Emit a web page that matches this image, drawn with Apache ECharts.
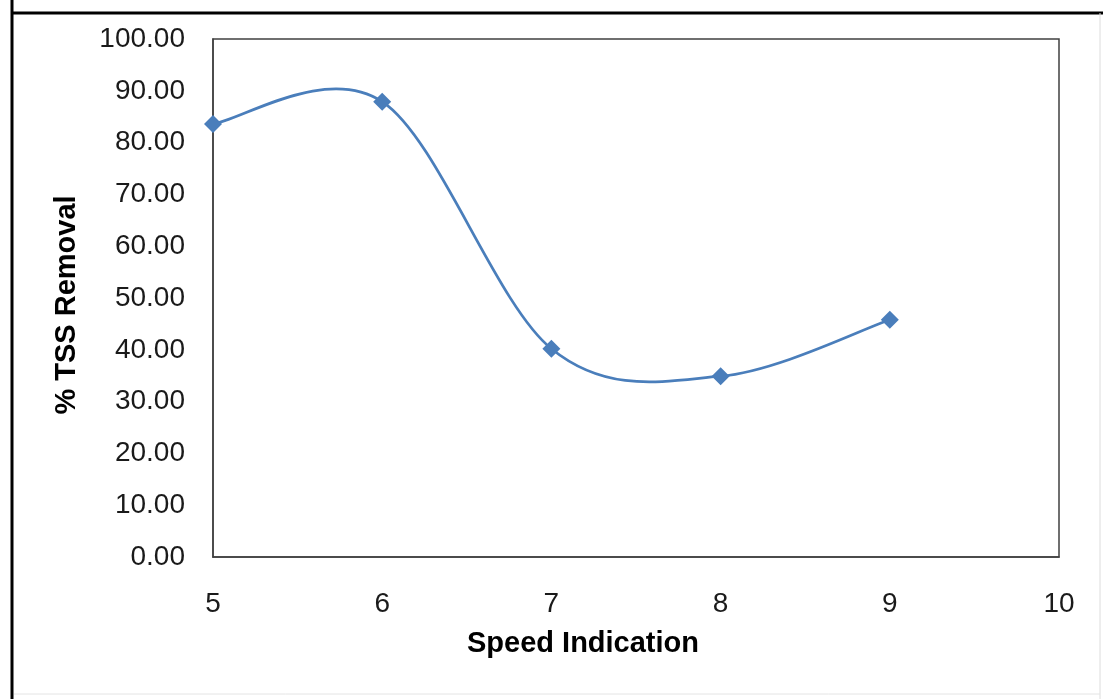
<!DOCTYPE html>
<html>
<head>
<meta charset="utf-8">
<script src="https://cdn.jsdelivr.net/npm/echarts@6/dist/echarts.min.js"></script>
<style>
html,body{margin:0;padding:0;background:#fff;}
#chart{width:1103px;height:699px;}
</style>
</head>
<body>
<div id="chart"></div>
<script>
const speedIndication = [5, 6, 7, 8, 9];
const tssRemoval = [83.6, 87.9, 40.2, 34.9, 45.8];
const xTitle = 'Speed Indication';
const yTitle = '% TSS Removal';

const chart = echarts.init(document.getElementById('chart'));
const font = '"Liberation Sans", Arial, sans-serif';
const lineColor = '#4A7EBB';
const pts = speedIndication.map((x, i) => [x, tssRemoval[i]]);

// Excel-style smoothed line: each segment drawn as a cubic Bezier whose
// control points come from neighbouring data points (converted by the axes).
function renderSegment(params, api) {
  const i = params.dataIndex;
  const n = pts.length;
  const c = k => api.coord(pts[Math.max(0, Math.min(n - 1, k))]);
  const p0 = c(i - 1), p1 = c(i), p2 = c(i + 1), p3 = c(i + 2);
  const cp1 = [p1[0] + (p2[0] - p0[0]) / 6, p1[1] + (p2[1] - p0[1]) / 6];
  const cp2 = [p2[0] - (p3[0] - p1[0]) / 6, p2[1] - (p3[1] - p1[1]) / 6];
  return {
    type: 'bezierCurve',
    shape: { x1: p1[0], y1: p1[1], x2: p2[0], y2: p2[1],
             cpx1: cp1[0], cpy1: cp1[1], cpx2: cp2[0], cpy2: cp2[1] },
    style: { stroke: lineColor, lineWidth: 2.75, fill: null }
  };
}

chart.setOption({
  animation: false,
  backgroundColor: '#fff',
  graphic: [
    { type: 'line', shape: { x1: 12, y1: 0, x2: 12, y2: 699 }, style: { stroke: '#000', lineWidth: 3 } },
    { type: 'line', shape: { x1: 11, y1: 13, x2: 1103, y2: 13 }, style: { stroke: '#000', lineWidth: 3 } },
    { type: 'line', shape: { x1: 1100, y1: 13, x2: 1100, y2: 699 }, style: { stroke: '#dcdcdc', lineWidth: 1 } },
    { type: 'line', shape: { x1: 14, y1: 694, x2: 1100, y2: 694 }, style: { stroke: '#e4e4e4', lineWidth: 1 } },
    { type: 'text', x: 583, y: 644, style: { text: xTitle, font: 'bold 29px ' + font, fill: '#000', align: 'center', verticalAlign: 'middle' } },
    { type: 'text', x: 67, y: 305, rotation: Math.PI / 2, style: { text: yTitle, font: 'bold 29px ' + font, fill: '#000', align: 'center', verticalAlign: 'middle' } }
  ],
  grid: { left: 213, right: 44, top: 39, bottom: 142, show: true, borderColor: '#404040', borderWidth: 1.5, backgroundColor: '#fff' },
  xAxis: {
    type: 'value', min: 5, max: 10, interval: 1,
    axisLine: { show: true, lineStyle: { color: '#404040', width: 1.5 } },
    axisTick: { show: false },
    splitLine: { show: false },
    axisLabel: { fontFamily: font, fontSize: 28, color: '#1a1a1a', margin: 33 }
  },
  yAxis: {
    type: 'value', min: 0, max: 100, interval: 10,
    axisLine: { show: true, lineStyle: { color: '#404040', width: 1.5 } },
    axisTick: { show: false },
    splitLine: { show: false },
    axisLabel: { fontFamily: font, fontSize: 28, color: '#1a1a1a', margin: 28,
      formatter: v => v.toFixed(2) }
  },
  series: [{
    type: 'custom',
    renderItem: renderSegment,
    data: pts.slice(0, -1),
    clip: false,
    silent: true
  }, {
    type: 'scatter',
    data: pts,
    symbol: 'diamond',
    symbolSize: 18,
    itemStyle: { color: lineColor, opacity: 1 },
    z: 5
  }]
});
</script>
</body>
</html>
